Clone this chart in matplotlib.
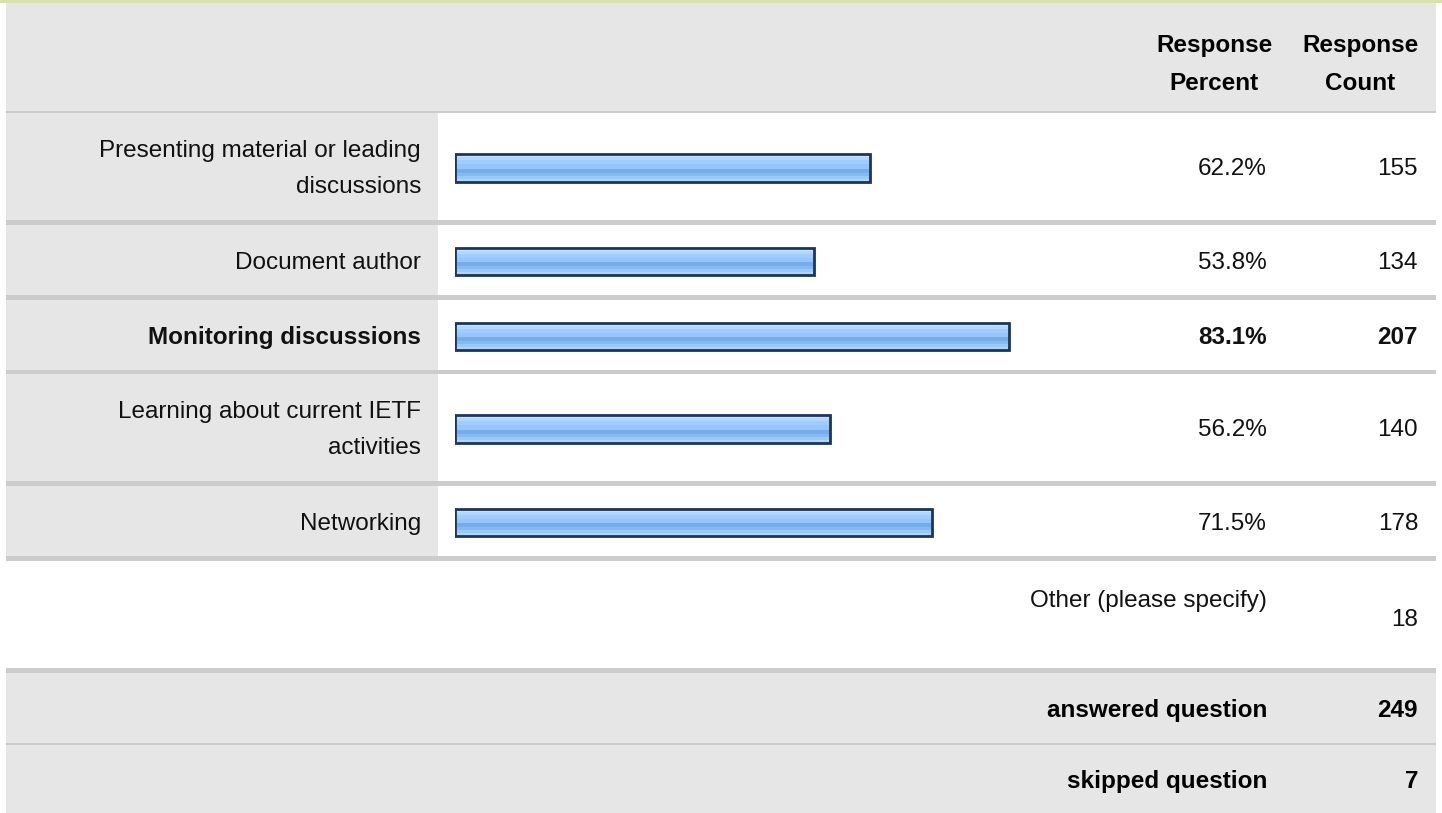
import matplotlib
matplotlib.use('Agg')
import matplotlib.pyplot as plt
from matplotlib.patches import Rectangle

# ---------------- data ----------------
categories = ["Presenting material or leading\ndiscussions",
              "Document author",
              "Monitoring discussions",
              "Learning about current IETF\nactivities",
              "Networking"]
percents = [62.2, 53.8, 83.1, 56.2, 71.5]
counts = [155, 134, 207, 140, 178]
bold_rows = [False, False, True, False, False]
header_labels = ["Response\nPercent", "Response\nCount"]
other_label = "Other (please specify)"
other_count = 18
summary_labels = ["answered question", "skipped question"]
summary_counts = [249, 7]

# ---------------- layout / style ----------------
W, H = 1442, 813
FONT = 'Liberation Sans'
FS = 17.5
LS = 1.85
DY = 2.5
GREY = '#e6e6e6'
SEP = '#cccccc'
L, R = 6, 1436
LABEL_R = 438
BAR_X0, BAR_X100 = 455, 1122
PCT_R, CNT_R = 1267, 1418

plt.rcParams['font.family'] = [FONT, 'DejaVu Sans']

fig = plt.figure(figsize=(W / 100, H / 100), dpi=100)
fig.patch.set_facecolor('white')
bg = fig.add_axes([0, 0, 1, 1])
bg.set_xlim(0, W)
bg.set_ylim(H, 0)
bg.axis('off')

# top accent line
bg.add_patch(Rectangle((0, 0), W, 3, color='#d9e4ad', lw=0))
# header band
bg.add_patch(Rectangle((L, 3), R - L, 108, color=GREY, lw=0))

row_bounds = [(113, 220), (225, 295), (300, 370), (374, 481), (486, 556)]
seps = [(111, 2), (220, 5), (295, 5), (370, 4), (481, 5), (556, 5), (668, 5), (743, 2)]

# label column grey cells
for (y0, y1) in row_bounds:
    bg.add_patch(Rectangle((L, y0), LABEL_R - L, y1 - y0, color=GREY, lw=0))
# summary rows grey
bg.add_patch(Rectangle((L, 673), R - L, 70, color=GREY, lw=0))
bg.add_patch(Rectangle((L, 745), R - L, 68, color=GREY, lw=0))
# separators
for (y, h) in seps:
    bg.add_patch(Rectangle((L, y), R - L, h, color=SEP, lw=0))

# header text
hdr_centers = [1214, 1360]
for lab, cx in zip(header_labels, hdr_centers):
    bg.text(cx, 62 + DY, lab, ha='center', va='center', fontsize=FS,
            fontweight='bold', linespacing=LS, color='#000000')

row_centers = [(a + b) / 2 for a, b in row_bounds]

# labels and values
for cat, p, c, b, yc in zip(categories, percents, counts, bold_rows, row_centers):
    fw = 'bold' if b else 'normal'
    bg.text(421, yc + DY, cat, ha='right', va='center', fontsize=FS,
            fontweight=fw, linespacing=LS, color='#111111')
    bg.text(PCT_R, yc + DY, f"{p:.1f}%", ha='right', va='center', fontsize=FS,
            fontweight=fw, color='#111111')
    bg.text(CNT_R, yc + DY, f"{c}", ha='right', va='center', fontsize=FS,
            fontweight=fw, color='#111111')

# other row
bg.text(PCT_R, 598 + DY, other_label, ha='right', va='center', fontsize=FS, color='#111111')
bg.text(CNT_R, 617 + DY, f"{other_count}", ha='right', va='center', fontsize=FS, color='#111111')

# summary rows
for lab, c, yc in zip(summary_labels, summary_counts, [708, 779]):
    bg.text(PCT_R, yc + DY, lab, ha='right', va='center', fontsize=FS,
            fontweight='bold', color='#000000')
    bg.text(CNT_R, yc + DY, f"{c}", ha='right', va='center', fontsize=FS,
            fontweight='bold', color='#000000')

# ---------------- bars (percent scale) ----------------
ax = fig.add_axes([BAR_X0 / W, 0, (BAR_X100 - BAR_X0) / W, 1])
ax.set_xlim(0, 100)
ax.set_ylim(H, 0)
ax.axis('off')
ax.patch.set_alpha(0)

BAR_H = 27.5
strip_colors = ['#c6e2fe', '#b0d7fd', '#9fcdfc', '#94c6fb', '#76ade9', '#84baf1', '#98c9fb', '#aed6fd']
strip_heights = [3, 3, 4, 4, 4, 3, 3, 3]
tot = sum(strip_heights)

for p, yc in zip(percents, row_centers):
    top = yc + 1.5 - BAR_H / 2
    y = top
    for col, sh in zip(strip_colors, strip_heights):
        h = BAR_H * sh / tot
        ax.barh(y, p, height=h, left=0, align='edge', color=col, lw=0)
        y += h
    ax.barh(yc + 1.5, p, height=BAR_H, left=0, align='center',
            facecolor='none', edgecolor='#1d355a', lw=2.0)

fig.savefig('out.png', dpi=100, facecolor='white')
